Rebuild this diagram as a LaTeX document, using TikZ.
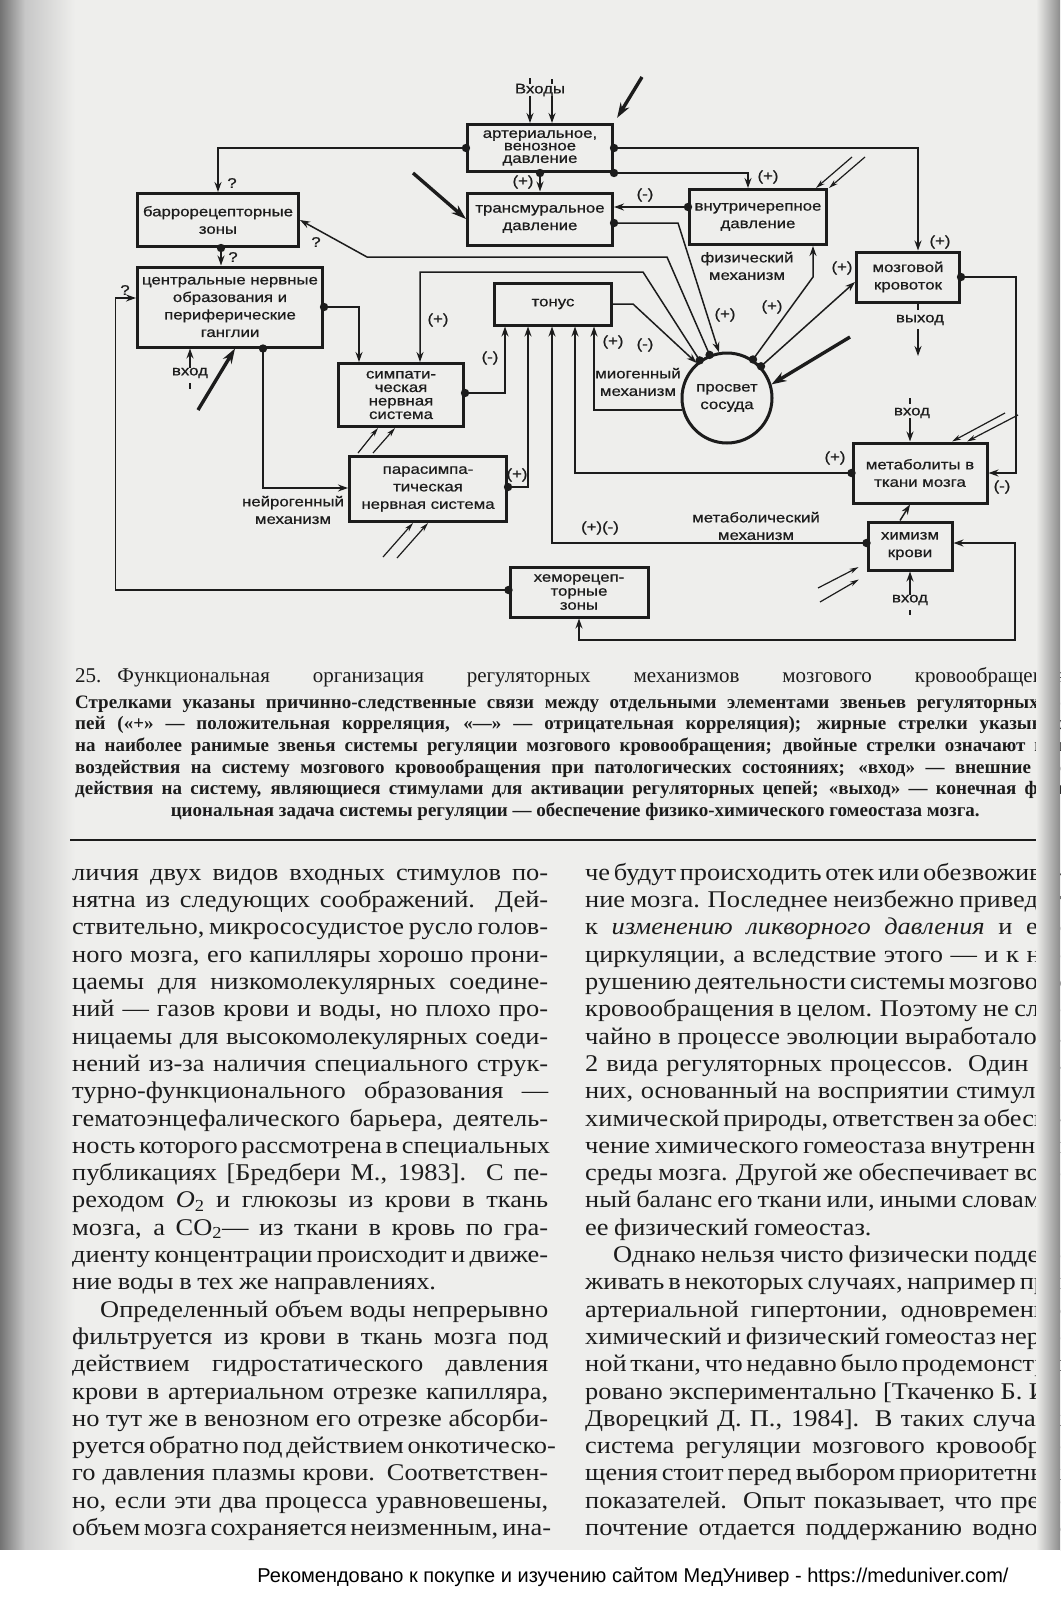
\documentclass[tikz,border=0pt]{standalone}
\usepackage{fontspec}
\setmainfont[FakeStretch=1.1,WordSpace=0.85]{Liberation Serif}
\newfontfamily\diafont[FakeStretch=1.2,FakeBold=0.7]{Liberation Sans}
\newfontfamily\capfont{Liberation Serif}
\newfontfamily\wmfont{Liberation Sans}
\usetikzlibrary{arrows.meta}
\definecolor{paper}{RGB}{238,238,236}
\definecolor{ink}{RGB}{28,28,28}
\newlength\colw \setlength\colw{476pt}
\newlength\capw \setlength\capw{1000pt}
\newcommand\jline[1]{\makebox[\colw][s]{\strut#1}}
\newcommand\pline[1]{\makebox[\colw][l]{\strut#1}}
\newcommand\iline[1]{\makebox[\colw][s]{\strut\hspace*{28pt}#1}}
\newcommand\capline[1]{\makebox[\capw][s]{\strut#1}}

\begin{document}
\begin{tikzpicture}[x=1pt, y=-1pt,
  box/.style={draw=ink, line width=3pt, inner sep=0pt, align=center, text=ink,
    font=\diafont\fontsize{14}{17.5}\selectfont},
  lbl/.style={inner sep=0pt, text=ink, align=center, font=\diafont\fontsize{14}{17.5}\selectfont},
  lnk/.style={draw=ink, line width=1.5pt, -{Stealth[length=10pt,width=7pt]}},
  both/.style={draw=ink, line width=1.5pt, {Stealth[length=10pt,width=7pt]}-{Stealth[length=10pt,width=7pt]}},
  thin/.style={draw=ink, line width=1.5pt},
  fat/.style={draw=ink, line width=3.4pt, -{Stealth[length=15pt,width=10pt]}},
  dbl/.style={draw=ink, line width=1.2pt, -{Stealth[length=9pt,width=5pt]}},
  body/.style={inner sep=0pt, anchor=north west, align=left, text=ink,
    font=\fontsize{24}{27.3}\selectfont},
]
% page
\useasboundingbox (0,0) rectangle (1060,1600);
\fill[paper] (0,0) rectangle (1060,1600);
\shade[left color=black!55, right color=black!22] (0,0) rectangle (25,1550);
\shade[left color=black!22, right color=paper] (25,0) rectangle (75,1550);

% boxes
\node[box, minimum width=145pt, minimum height=47pt, font=\diafont\fontsize{14}{12.5}\selectfont] (art) at (540,148) {артериальное,\\венозное\\давление};
\node[box, minimum width=145pt, minimum height=52pt] (trans) at (540,219) {трансмуральное\\давление};
\node[box, minimum width=161pt, minimum height=53pt] (barro) at (218,220) {баррорецепторные\\зоны};
\node[box, minimum width=185pt, minimum height=80pt] (central) at (230,307) {центральные нервные\\образования и\\периферические\\ганглии};
\node[box, minimum width=125pt, minimum height=63pt, font=\diafont\fontsize{14}{13.5}\selectfont] (symp) at (401,395) {симпати-\\ческая\\нервная\\система};
\node[box, minimum width=157pt, minimum height=65pt] (para) at (428,489) {парасимпа-\\тическая\\нервная система};
\node[box, minimum width=138pt, minimum height=50pt, font=\diafont\fontsize{14}{14}\selectfont] (chemo) at (579,592) {хеморецеп-\\торные\\зоны};
\node[box, minimum width=117pt, minimum height=42pt] (tonus) at (553,304) {тонус};
\node[box, minimum width=137pt, minimum height=55pt] (intra) at (758,217) {внутричерепное\\давление};
\node[box, minimum width=103pt, minimum height=50pt] (mozg) at (908,277) {мозговой\\кровоток};
\node[box, circle, minimum size=90pt] (circ) at (727,398) {просвет\\сосуда};
\node[box, minimum width=134pt, minimum height=60pt] (metab) at (920,473) {метаболиты в\\ткани мозга};
\node[box, minimum width=84pt, minimum height=48pt] (chem) at (910,546) {химизм\\крови};

% inputs and outputs
\node[lbl] (inp) at (540,90) {Входы};
\node[lbl] (in1) at (190,373) {вход};
\node[lbl] (in2) at (912,413) {вход};
\node[lbl] (in3) at (910,600) {вход};
\node[lbl] (out) at (920,320) {выход};
\coordinate (outend) at (918,356);
\draw[lnk] ([xshift=-10pt]inp.south) -- ([xshift=-10pt]art.north);
\draw[lnk] ([xshift=12pt]inp.south) -- ([xshift=12pt]art.north);
\draw[thin] ([xshift=-10pt]inp.north) -- ++(0,-6);
\draw[thin] ([xshift=12pt]inp.north) -- ++(0,-5);
\draw[lnk] (in1.north) -- (in1.north |- central.south);
\draw[thin] (in1.south) ++(0,5) -- ++(0,6);
\draw[lnk] ([xshift=-2pt]in2.south) -- ([xshift=-10pt]metab.north);
\draw[thin] ([xshift=-2pt]in2.north) ++(0,-4) -- ++(0,-6);
\draw[lnk] (in3.north) -- (chem.south);
\draw[thin] (in3.south) ++(0,5) -- ++(0,5);
\draw[thin] ([xshift=10pt]mozg.south) -- ++(0,6);
\draw[lnk] (out.south -| outend) ++(0,4) -- (outend);

% bold arrows
\coordinate (f1) at (642,77);
\coordinate (f2) at (413,173);
\coordinate (f3) at (198,410);
\coordinate (f4) at (850,337);
\draw[fat, shorten >=6pt] (f1) -- (art.north east);
\draw[fat] (f2) -- (trans.west);
\draw[fat] (f3) -- ([xshift=5pt]central.south);
\draw[fat] (f4) -- (circ.17);

% double arrows
\coordinate (d1) at (852,157); \coordinate (d2) at (865,157);
\coordinate (d3) at (358,453); \coordinate (d4) at (373,453);
\coordinate (d5) at (383,557); \coordinate (d6) at (397,558);
\coordinate (d7) at (1005,413); \coordinate (d8) at (1018,415);
\coordinate (d9) at (818,588); \coordinate (d10) at (820,602);
\draw[dbl] (d1) -- ([xshift=-12pt]intra.north east);
\draw[dbl] (d2) -- ([xshift=1pt]intra.north east);
\draw[dbl] (d3) -- ([xshift=-23pt]symp.south);
\draw[dbl] (d4) -- ([xshift=-6pt]symp.south);
\draw[dbl] (d5) -- ([xshift=-15pt]para.south);
\draw[dbl] (d6) -- (para.south);
\draw[dbl] (d7) -- ([xshift=32pt]metab.north);
\draw[dbl] (d8) -- ([xshift=47pt]metab.north);
\draw[dbl, shorten >=9pt] (d9) -- ([yshift=-17pt]chem.west);
\draw[dbl, shorten >=9pt] (d10) -- ([yshift=-29pt]chem.west);

% links
\coordinate (lp) at (1015,640);
\draw[lnk] (art.west) -| (barro.north);
\draw[lnk] (art.south) -- (trans.north);
\draw[lnk] (art.east) -| ([xshift=10pt]mozg.north);
\draw[lnk] (art.south east) -| ([xshift=-10pt]intra.north);
\draw[lnk] ([yshift=10pt]intra.west) -- ([yshift=10pt]intra.west -| trans.east);
\draw[lnk] ([yshift=-4pt]trans.east) -- ++(64,0) -- (circ.100);
\draw[lnk] (circ.112) -- (667,257) -- (367,257) -- (barro.east);
\draw[lnk] (circ.126) -- (643,272) -| ([xshift=19pt]symp.north);
\draw[lnk] (tonus.east) -- ++(20,0) -- (circ.131);
\draw[lnk] (circ.195) -| ([xshift=41pt]tonus.south);
\draw[lnk] (circ.56) -- (813,277) -- ([xshift=55pt]intra.south);
\draw[lnk] (circ.43) -- ([yshift=-5pt]mozg.west);
\draw[lnk] (mozg.east) -- ++(55,0) |- (metab.east);
\draw[lnk] (metab.west) -| ([xshift=22pt]tonus.south);
\draw[lnk] ([xshift=-10pt]chem.north) -- ([xshift=-10pt]metab.south);
\draw[lnk] ([yshift=3pt]chem.west) -| ([xshift=-1pt]tonus.south);
\draw[both] ([yshift=3pt]chem.east) -| (lp) -| (chemo.south);
\draw[lnk] ([yshift=2pt]chemo.west) -- ++(-393,0) |- ([yshift=9pt]central.west);
\draw[lnk] (central.east) -| ([xshift=-42pt]symp.north);
\draw[lnk] ([xshift=33pt]central.south) |- ([yshift=1pt]para.west);
\draw[lnk] ([xshift=3pt]barro.south) -- ([xshift=-9pt]central.north);
\draw[lnk] ([yshift=2pt]symp.east) -| ([xshift=-48pt]tonus.south);
\draw[lnk] ([yshift=2pt]para.east) -| ([xshift=-25pt]tonus.south);

% dots
\foreach \p in {(art.west),(art.south),(art.east),(art.south east),([yshift=10pt]intra.west),
  ([yshift=-4pt]trans.east),(circ.112),(circ.126),(circ.56),(circ.43),(mozg.east),(metab.west),
  ([yshift=3pt]chem.west),([yshift=2pt]chemo.west),(central.east),([xshift=33pt]central.south),
  ([xshift=3pt]barro.south),([yshift=2pt]symp.east),([yshift=2pt]para.east)}
  \fill[ink] \p circle (4.2pt);

% signs
\node[lbl] at (232,183) {?};
\node[lbl] at (316,242) {?};
\node[lbl] at (233,257) {?};
\node[lbl] at (125,290) {?};
\node[lbl] at (523,182) {(+)};
\node[lbl] at (645,195) {(-)};
\node[lbl] at (768,177) {(+)};
\node[lbl] at (940,242) {(+)};
\node[lbl] at (438,320) {(+)};
\node[lbl] at (490,358) {(-)};
\node[lbl] at (613,342) {(+)};
\node[lbl] at (645,345) {(-)};
\node[lbl] at (725,315) {(+)};
\node[lbl] at (772,307) {(+)};
\node[lbl] at (842,268) {(+)};
\node[lbl] at (517,475) {(+)};
\node[lbl] at (600,528) {(+)(-)};
\node[lbl] at (835,458) {(+)};
\node[lbl] at (1002,487) {(-)};
\node[lbl] at (638,382) {миогенный\\механизм};
\node[lbl] at (747,266) {физический\\механизм};
\node[lbl] at (293,510) {нейрогенный\\механизм};
\node[lbl] at (756,526) {метаболический\\механизм};

% caption
\node[inner sep=0pt, anchor=base west, text=ink, font=\capfont\fontsize{21}{24}\selectfont] (cap1) at (75,682)
  {\makebox[995pt][s]{25.\hspace{16pt}Функциональная организация регуляторных механизмов мозгового кровообращения.}};
\node[inner sep=0pt, anchor=north west, align=left, text=ink, font=\capfont\bfseries\fontsize{19}{21.6}\selectfont] (cap2) at (75,693)
  {\capline{Стрелками указаны причинно-следственные связи между отдельными элементами звеньев регуляторных це-}\\
   \capline{пей («+» — положительная корреляция, «—» — отрицательная корреляция); жирные стрелки указывают}\\
   \capline{на наиболее ранимые звенья системы регуляции мозгового кровообращения; двойные стрелки означают пути}\\
   \capline{воздействия на систему мозгового кровообращения при патологических состояниях; «вход» — внешние воз-}\\
   \capline{действия на систему, являющиеся стимулами для активации регуляторных цепей; «выход» — конечная функ-}\\
   \makebox[\capw][c]{\strut циональная задача системы регуляции — обеспечение физико-химического гомеостаза мозга.}};
\draw[ink, line width=1.8pt] (70,840) -- (1060,840);

% text columns
\node[body] (colL) at (72,861) {%
\jline{личия двух видов входных стимулов по-}\\
\jline{нятна из следующих соображений. Дей-}\\
\jline{ствительно, микрососудистое русло голов-}\\
\jline{ного мозга, его капилляры хорошо прони-}\\
\jline{цаемы для низкомолекулярных соедине-}\\
\jline{ний — газов крови и воды, но плохо про-}\\
\jline{ницаемы для высокомолекулярных соеди-}\\
\jline{нений из-за наличия специального струк-}\\
\jline{турно-функционального образования —}\\
\jline{гематоэнцефалического барьера, деятель-}\\
\jline{ность которого рассмотрена в специальных}\\
\jline{публикациях [Бредбери М., 1983]. С пе-}\\
\jline{реходом \textit{O}\textsubscript{2} и глюкозы из крови в ткань}\\
\jline{мозга, а CO\textsubscript{2}— из ткани в кровь по гра-}\\
\jline{диенту концентрации происходит и движе-}\\
\pline{ние воды в тех же направлениях.}\\
\iline{Определенный объем воды непрерывно}\\
\jline{фильтруется из крови в ткань мозга под}\\
\jline{действием гидростатического давления}\\
\jline{крови в артериальном отрезке капилляра,}\\
\jline{но тут же в венозном его отрезке абсорби-}\\
\jline{руется обратно под действием онкотическо-}\\
\jline{го давления плазмы крови. Соответствен-}\\
\jline{но, если эти два процесса уравновешены,}\\
\jline{объем мозга сохраняется неизменным, ина-}};
\node[body] (colR) at (585,861) {%
\jline{че будут происходить отек или обезвожива-}\\
\jline{ние мозга. Последнее неизбежно приведет}\\
\jline{к \textit{изменению ликворного давления} и его}\\
\jline{циркуляции, а вследствие этого — и к на-}\\
\jline{рушению деятельности системы мозгового}\\
\jline{кровообращения в целом. Поэтому не слу-}\\
\jline{чайно в процессе эволюции выработалось}\\
\jline{2 вида регуляторных процессов. Один из}\\
\jline{них, основанный на восприятии стимулов}\\
\jline{химической природы, ответствен за обеспе-}\\
\jline{чение химического гомеостаза внутренней}\\
\jline{среды мозга. Другой же обеспечивает вод-}\\
\jline{ный баланс его ткани или, иными словами,}\\
\pline{ее физический гомеостаз.}\\
\iline{Однако нельзя чисто физически поддер-}\\
\jline{живать в некоторых случаях, например при}\\
\jline{артериальной гипертонии, одновременно}\\
\jline{химический и физический гомеостаз нерв-}\\
\jline{ной ткани, что недавно было продемонстри-}\\
\jline{ровано экспериментально [Ткаченко Б. И.,}\\
\jline{Дворецкий Д. П., 1984]. В таких случаях}\\
\jline{система регуляции мозгового кровообра-}\\
\jline{щения стоит перед выбором приоритетных}\\
\jline{показателей. Опыт показывает, что пред-}\\
\jline{почтение отдается поддержанию водного}};

% right page edge
\shade[left color=paper, right color=black!45] (1036,0) rectangle (1060,1550);
% bottom band
\fill[white] (0,1550) rectangle (1060,1600);
\node[inner sep=0pt, text=black, font=\wmfont\fontsize{20}{24}\selectfont] (wm) at (633,1577)
  {Рекомендовано к покупке и изучению сайтом МедУнивер - https://meduniver.com/};
\end{tikzpicture}
\end{document}
